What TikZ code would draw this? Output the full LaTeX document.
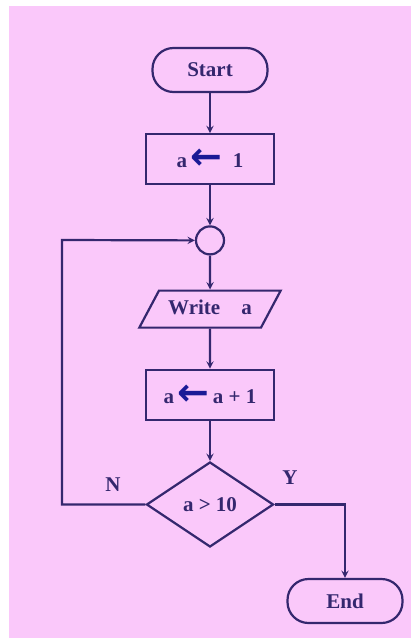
\documentclass[tikz,border=0pt]{standalone}
\usepackage{fontspec}
\setmainfont{Liberation Serif}
\newfontfamily\arrowfont{DejaVu Sans}
\usetikzlibrary{shapes.geometric}
\usetikzlibrary{arrows,chains}
\usepackage{xcolor}

\definecolor{sheet}{HTML}{FAC8FA}
\definecolor{ink}{HTML}{34276E}
\definecolor{assign}{HTML}{1A1A96}

\newcommand{\getsarrow}{\raisebox{-2pt}{\arrowfont\bfseries\fontsize{38}{38}\selectfont\color{assign}←}}

\begin{document}
\begin{tikzpicture}[x=1pt, y=1pt, >=stealth, line width=2.2pt,
    every node/.style={text=ink, font=\bfseries\fontsize{21}{24}\selectfont},
    term/.style={rectangle, rounded corners=21pt, draw=ink, minimum width=115pt, minimum height=44pt},
    proc/.style={rectangle, draw=ink, minimum width=128pt, minimum height=50pt},
    joint/.style={circle, draw=ink, minimum size=28pt, inner sep=0pt},
    io/.style={trapezium, trapezium left angle=62, trapezium right angle=118, draw=ink,
        text width=88pt, align=center, text height=14pt, text depth=4pt, inner xsep=7pt, inner ysep=9.5pt},
    test/.style={diamond, draw=ink, minimum width=127pt, minimum height=85pt, inner sep=0pt},
    start chain=going below, node distance=40pt]

    \useasboundingbox (0,0) rectangle (411,-642);
    \fill[white] (0,0) rectangle (411,-642);
    \fill[sheet] (9,-6) rectangle (411,-638);

                \node[term,on chain] (start) at (210,-70) {Start};
                \node[proc,on chain] (init) {a\,\getsarrow\enspace 1};
                \node[joint,on chain] (loop) {};
                \node[io,node distance=34pt,on chain] (out) {Write~~~a};
                \node[proc,on chain] (step) {a\,\getsarrow\,a + 1};
                \node[test,on chain] (cond) {a > 10};

                \node[term] (stop) at (345,-601) {End};

                \node (no) at (113,-485) {N};
                \node (yes) at (290,-478) {Y};

                \coordinate (back) at (62,-240);

                \draw[->,ink] (start) -- (init);
                \draw[->,ink] (init) -- (loop);
                \draw[->,ink] (loop) -- (out);
                \draw[->,ink] (out) -- (step);
                \draw[->,ink] (step) -- (cond);

                \draw[->,ink] (cond.west) -| (back) -- (loop.west);
                \draw[->,ink] (cond.east) -| (stop.north);

            \end{tikzpicture}
\end{document}
